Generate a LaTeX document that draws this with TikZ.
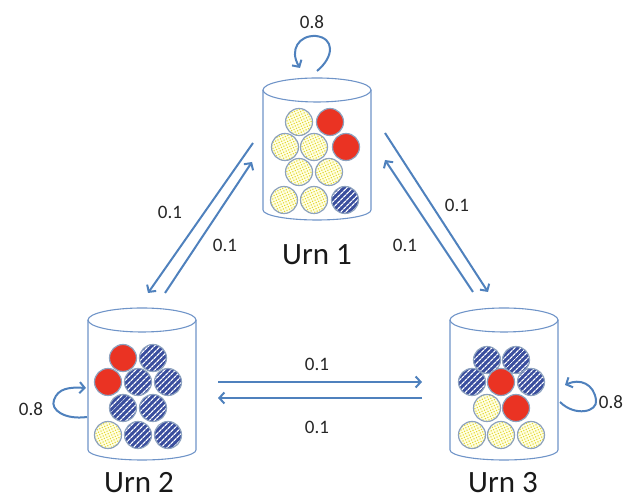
\documentclass[tikz,border=0pt]{standalone}
\usepackage{fontspec}
\setmainfont{Carlito}
\usetikzlibrary{arrows.meta,patterns.meta}

\definecolor{linkblue}{HTML}{4F81BD}
\definecolor{rimblue}{HTML}{6F94C8}
\definecolor{ballred}{HTML}{EA3323}
\definecolor{ballnavy}{HTML}{3A4E9E}
\definecolor{ballcream}{HTML}{FFFFE2}
\definecolor{balldot}{HTML}{E4D632}
\definecolor{ballrim}{HTML}{8DA2BF}

\tikzset{
  link/.style={draw=linkblue, line width=2pt, -{Straight Barb[length=5pt,width=11pt]}},
  rim/.style={draw=rimblue, line width=1.1pt},
  redball/.style={fill=ballred, draw=ballrim, line width=1.2pt},
  navyball/.style={preaction={fill=ballnavy},
    pattern={Lines[angle=45,distance=4pt,line width=1.3pt]}, pattern color=white,
    draw=ballrim, line width=1.2pt},
  creamball/.style={preaction={fill=ballcream},
    pattern={Dots[distance=2.7pt,radius=0.8pt,angle=25]}, pattern color=balldot,
    draw=ballrim, line width=1.2pt},
  prob/.style={font=\fontsize{19}{19}\selectfont, text=black!85, inner sep=0pt},
  urnname/.style={font=\fontsize{31}{31}\selectfont, text=black!90, anchor=base, inner sep=0pt},
}

% open cylinder: #1 centre x, #2 rim centre y, #3 base centre y
\newcommand{\urnbody}[3]{%
  \draw[rim] (#1,#2) ellipse[x radius=54, y radius=12];
  \draw[rim] (#1-54,#2) -- (#1-54,#3)
    arc[start angle=180, end angle=360, x radius=54, y radius=10] -- (#1+54,#2);
}
% one ball: #1 x, #2 y, #3 style
\newcommand{\urnball}[3]{\path[#3] (#1,#2) circle[radius=13.5];}

\begin{document}
\begin{tikzpicture}[x=1pt,y=1pt]
\useasboundingbox (0,0) rectangle (634,502);

% ---- urn 1 ----
\urnbody{317}{412}{292}
\urnball{299}{380}{creamball}
\urnball{330}{380}{redball}
\urnball{285}{355}{creamball}
\urnball{314}{355}{creamball}
\urnball{346}{355}{redball}
\urnball{299}{330}{creamball}
\urnball{329}{330}{creamball}
\urnball{284}{302}{creamball}
\urnball{314}{302}{creamball}
\urnball{345}{302}{navyball}

% ---- urn 2 ----
\urnbody{142}{182}{52}
\urnball{123}{144}{redball}
\urnball{153}{144}{navyball}
\urnball{108}{120}{redball}
\urnball{138}{120}{navyball}
\urnball{168}{120}{navyball}
\urnball{123}{94}{navyball}
\urnball{153}{94}{navyball}
\urnball{108}{67}{creamball}
\urnball{138}{67}{navyball}
\urnball{168}{67}{navyball}

% ---- urn 3 ----
\urnbody{504}{182}{52}
\urnball{487}{142}{navyball}
\urnball{516}{142}{navyball}
\urnball{472}{120}{navyball}
\urnball{501}{120}{redball}
\urnball{531}{120}{navyball}
\urnball{487}{94}{creamball}
\urnball{516}{94}{redball}
\urnball{472}{67}{creamball}
\urnball{501}{67}{creamball}
\urnball{531}{67}{creamball}

% ---- urn names ----
\node[urnname] (n1) at (317,237) {Urn 1};
\node[urnname] (n2) at (139,9) {Urn 2};
\node[urnname] (n3) at (503,9) {Urn 3};

% ---- connector end points ----
\coordinate (a12s) at (253,359); \coordinate (a12e) at (148,209);
\coordinate (a21s) at (165,209); \coordinate (a21e) at (252,340);
\coordinate (a13s) at (385,369); \coordinate (a13e) at (488,210);
\coordinate (a31s) at (473,210); \coordinate (a31e) at (385,342);
\coordinate (a23s) at (218,120); \coordinate (a23e) at (422,120);
\coordinate (a32s) at (422,104); \coordinate (a32e) at (218,104);
\coordinate (s1s) at (317,431); \coordinate (s1e) at (300,434);
\coordinate (s2s) at (87,85);   \coordinate (s2e) at (86,114);
\coordinate (s3s) at (560,100); \coordinate (s3e) at (565,117);

% ---- transitions between urns ----
\draw[link] (a12s) -- (a12e);
\draw[link] (a21s) -- (a21e);
\draw[link] (a13s) -- (a13e);
\draw[link] (a31s) -- (a31e);
\draw[link] (a23s) -- (a23e);
\draw[link] (a32s) -- (a32e);

% ---- self loops ----
\draw[link] (s1s) .. controls (335,446) and (334,464) .. (316,466)
                  .. controls (299,467) and (289,452) .. (s1e);
\draw[link] (s2s) .. controls (65,82) and (50,92) .. (54,102)
                  .. controls (58,114) and (70,115) .. (s2e);
\draw[link] (s3s) .. controls (575,85) and (598,90) .. (596,102)
                  .. controls (594,118) and (580,124) .. (s3e);

% ---- probabilities ----
\node[prob] (p1) at (312,480) {0.8};
\node[prob] (p2) at (31,93) {0.8};
\node[prob] (p3) at (611,100) {0.8};
\node[prob] (p4) at (170,290) {0.1};
\node[prob] (p5) at (225,257) {0.1};
\node[prob] (p6) at (457,297) {0.1};
\node[prob] (p7) at (405,257) {0.1};
\node[prob] (p8) at (317,138) {0.1};
\node[prob] (p9) at (317,75) {0.1};
\end{tikzpicture}
\end{document}
